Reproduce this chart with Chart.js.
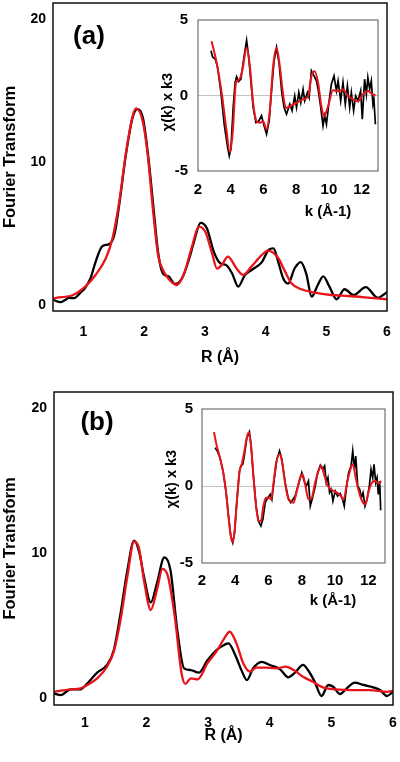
<!DOCTYPE html>
<html><head><meta charset="utf-8">
<script src="https://cdn.jsdelivr.net/npm/chart.js@4.4.1/dist/chart.umd.min.js"></script>
<style>
html,body{margin:0;padding:0;background:#fff}
body{position:relative;width:400px;height:762px;overflow:hidden}
canvas{position:absolute;display:block}
</style></head>
<body>
<canvas id="mainA" width="400" height="380" style="left:0;top:0"></canvas>
<canvas id="mainB" width="400" height="382" style="left:0;top:380px"></canvas>
<canvas id="insetA" width="230" height="215" style="left:155px;top:8px"></canvas>
<canvas id="insetB" width="232" height="220" style="left:158px;top:395px"></canvas>
<script>
// ---- tick labels ----
const rTicks = [1, 2, 3, 4, 5, 6];
const ftTicks = [0, 10, 20];
const kTicks = [2, 4, 6, 8, 10, 12];
const chiTicks = [-5, 0, 5];

// ---- panel (a): Fourier transform, experiment (black) ----
const aR_exp  = [0.50,0.55,0.62,0.70,0.76,0.85,0.95,1.03,1.12,1.20,1.31,1.43,1.51,1.59,1.70,1.81,1.89,1.98,2.06,2.15,2.23,2.31,2.40,2.51,2.58,2.65,2.74,2.82,2.93,3.03,3.15,3.26,3.35,3.45,3.55,3.66,3.77,3.94,4.05,4.13,4.21,4.29,4.37,4.48,4.58,4.67,4.76,4.86,4.95,5.05,5.17,5.30,5.45,5.65,5.85,6.00];
const aFT_exp = [0.40,0.28,0.20,0.35,0.50,0.48,0.85,1.20,1.90,3.00,4.10,4.27,4.90,7.00,10.5,13.1,13.7,13.1,10.7,7.00,3.70,2.20,2.00,1.47,1.60,2.10,3.20,4.40,5.75,5.40,3.70,2.90,2.80,2.20,1.28,2.10,2.45,3.00,3.85,3.96,3.00,1.87,1.50,2.57,3.00,2.20,0.58,1.40,2.00,1.30,0.40,1.10,0.70,1.25,0.50,0.90];
// ---- panel (a): Fourier transform, fit (red) ----
const aR_fit  = [0.50,0.55,0.83,1.03,1.20,1.37,1.48,1.59,1.70,1.81,1.87,1.98,2.06,2.15,2.23,2.31,2.42,2.53,2.65,2.79,2.90,3.01,3.12,3.20,3.28,3.38,3.52,3.63,3.77,3.94,4.04,4.21,4.32,4.43,4.59,4.81,5.08,5.36,5.63,6.00];
const aFT_fit = [0.45,0.50,0.70,1.28,2.10,3.27,4.66,7.20,10.6,13.2,13.75,12.8,10.5,6.50,3.50,2.45,1.75,1.40,2.10,4.10,5.48,5.10,3.60,2.55,2.80,3.38,2.57,2.10,2.70,3.50,3.80,3.27,2.35,1.50,1.10,0.86,0.70,0.63,0.54,0.40];

// ---- panel (a) inset: chi(k) k^3, experiment (black) ----
const aK_exp   = [2.79,2.89,3.06,3.20,3.40,3.60,3.81,3.91,4.01,4.15,4.27,4.36,4.48,4.62,4.79,4.97,5.09,5.23,5.37,5.54,5.70,5.88,6.04,6.19,6.35,6.51,6.65,6.80,6.96,7.12,7.26,7.41,7.51,7.61,7.75,7.91,8.02,8.16,8.28,8.42,8.52,8.69,8.79,8.93,9.09,9.24,9.34,9.50,9.64,9.74,9.85,9.99,10.15,10.31,10.46,10.56,10.72,10.86,11.00,11.13,11.27,11.37,11.51,11.63,11.78,11.94,12.04,12.18,12.29,12.38,12.49,12.59,12.69,12.75,12.84];
const aChi_exp = [2.96,2.56,2.40,1.85,0.20,-1.90,-3.44,-4.00,-3.55,-0.79,0.86,1.24,0.93,1.08,2.40,3.66,2.63,0.97,-0.79,-1.79,-1.72,-1.34,-2.00,-2.56,-1.68,0.53,2.30,3.18,2.07,0.20,-0.79,-1.24,-0.90,-0.57,-1.00,-0.02,-0.79,0.20,-0.46,0.42,-0.35,0.20,-0.13,1.64,1.30,0.97,0.42,-0.79,-2.00,-1.34,-1.90,-0.57,0.75,1.30,0.31,0.97,-0.35,0.86,-0.57,0.64,-0.79,0.20,-1.00,-0.02,-0.35,0.31,-1.57,1.08,0.09,1.19,0.42,0.97,-0.57,-0.24,-1.90];
// ---- panel (a) inset: fit (red) ----
const aK_fit   = [2.83,3.14,3.45,3.71,3.95,4.12,4.32,4.52,4.72,4.97,5.17,5.37,5.58,5.78,5.98,6.19,6.39,6.59,6.80,7.00,7.20,7.37,7.61,8.02,8.42,8.73,8.93,9.13,9.34,9.54,9.70,9.95,10.25,10.56,10.86,11.17,11.47,11.78,12.08,12.38,12.69,12.85];
const aChi_fit = [3.60,2.16,0.18,-2.03,-3.75,-2.46,0.84,1.06,1.72,3.16,1.94,-0.48,-1.70,-1.81,-1.70,-2.25,-0.93,1.94,3.16,1.94,0.07,-0.82,-0.71,-0.48,-0.26,-0.04,1.28,1.61,0.84,-0.71,-1.37,-0.71,0.35,0.29,0.40,-0.04,-0.26,-0.38,0.07,0.29,0.07,0.00];

// ---- panel (b): Fourier transform, experiment (black) ----
const bR_exp  = [0.50,0.61,0.77,0.93,1.04,1.20,1.36,1.47,1.58,1.69,1.80,1.88,1.96,2.07,2.17,2.29,2.39,2.50,2.61,2.72,2.85,2.99,3.15,3.26,3.33,3.44,3.54,3.63,3.73,3.87,4.00,4.17,4.30,4.41,4.54,4.62,4.73,4.84,4.95,5.03,5.14,5.25,5.38,5.52,5.68,5.79,5.90,6.00];
const bFT_exp = [0.32,0.20,0.60,0.60,1.00,1.75,2.28,3.30,5.84,8.80,10.85,10.1,8.37,6.60,7.90,9.70,8.80,4.70,2.05,1.93,1.75,2.60,3.36,3.66,3.77,2.97,1.93,1.24,2.05,2.50,2.28,1.98,1.43,1.75,2.28,1.93,1.12,0.14,0.90,0.78,0.28,0.67,1.06,0.90,0.74,0.55,0.14,0.43];
// ---- panel (b): Fourier transform, fit (red) ----
const bR_fit  = [0.50,0.77,0.93,1.04,1.20,1.36,1.47,1.58,1.69,1.80,1.88,1.96,2.07,2.17,2.26,2.35,2.46,2.57,2.63,2.72,2.83,2.99,3.15,3.26,3.35,3.46,3.57,3.68,3.78,3.92,4.11,4.26,4.39,4.54,4.70,4.86,5.07,5.35,5.62,5.90,6.00];
const bFT_fit = [0.43,0.60,0.67,0.90,1.36,2.16,3.20,5.40,8.37,10.8,10.3,8.10,6.07,7.45,8.90,8.37,5.60,1.70,0.97,1.36,1.29,2.40,3.30,4.10,4.57,3.77,2.40,1.82,2.10,2.10,2.05,2.16,1.93,1.47,1.12,0.74,0.60,0.55,0.55,0.43,0.50];

// ---- panel (b) inset: experiment (black) ----
const bK_exp   = [2.78,2.92,3.08,3.28,3.45,3.59,3.73,3.85,3.95,4.09,4.25,4.33,4.45,4.55,4.69,4.85,4.95,5.09,5.25,5.39,5.54,5.66,5.80,5.96,6.10,6.20,6.34,6.50,6.66,6.80,7.00,7.20,7.34,7.46,7.60,7.80,8.00,8.14,8.27,8.40,8.51,8.67,8.81,8.95,9.11,9.25,9.37,9.47,9.57,9.67,9.77,9.87,10.01,10.15,10.31,10.45,10.55,10.67,10.81,10.96,11.06,11.16,11.24,11.36,11.48,11.58,11.68,11.80,11.92,12.06,12.16,12.26,12.34,12.44,12.52,12.60,12.68,12.74];
const bChi_exp = [2.49,2.27,1.84,0.87,-0.43,-1.95,-3.25,-3.68,-3.10,-1.08,0.97,1.30,1.41,2.00,3.10,3.50,2.60,0.65,-1.30,-2.27,-2.60,-2.16,-1.08,-0.76,-0.54,-0.87,0.43,1.73,2.27,1.73,0.22,-0.87,-1.08,-0.87,-0.65,0.11,0.87,0.32,0.00,0.32,-1.30,-0.65,0.00,0.87,1.34,1.08,1.30,0.22,0.54,-0.43,-0.22,-0.97,-0.33,-0.65,-0.48,-0.87,-1.30,-0.22,0.87,1.30,2.27,1.08,1.95,0.00,-0.22,-0.76,-0.43,-1.30,-0.87,0.00,1.08,0.54,1.41,0.22,0.54,-0.54,0.32,-1.58];
// ---- panel (b) inset: fit (red) ----
const bK_fit   = [2.72,2.89,3.08,3.28,3.45,3.59,3.73,3.83,3.95,4.09,4.25,4.39,4.53,4.69,4.83,4.95,5.09,5.25,5.39,5.54,5.69,5.84,6.00,6.16,6.30,6.46,6.66,6.80,6.96,7.14,7.30,7.50,7.70,7.90,8.04,8.20,8.40,8.60,8.80,9.00,9.17,9.31,9.51,9.71,9.91,10.11,10.31,10.51,10.72,10.92,11.08,11.22,11.42,11.62,11.82,12.02,12.22,12.42,12.62,12.77];
const bChi_fit = [3.50,2.60,1.84,0.87,-0.43,-1.95,-3.25,-3.64,-3.03,-1.08,0.87,1.41,2.16,3.14,3.50,2.60,0.65,-1.30,-2.27,-2.27,-1.30,-0.76,-0.76,-0.87,0.22,1.51,2.06,1.62,0.43,-0.65,-0.97,-1.08,-0.33,0.54,0.76,0.11,-0.87,-0.76,0.22,0.97,1.30,0.87,0.11,-0.17,-0.33,-0.43,-0.61,-0.87,0.22,1.08,1.41,0.65,-0.33,-0.97,-1.19,-0.33,0.22,0.32,0.17,0.32];

// ---- texts ----
const ftTitle = 'Fourier Transform';
const rTitle = 'R (Å)';
const kTitle = 'k (Å-1)';
const chiTitle = 'χ(k) x k3';
const panelLabels = ['(a)', '(b)'];

const FAM = '"Liberation Sans", Arial, Helvetica, sans-serif';
const BLACK = '#000000';
const RED = '#e8141a';

function pts(xs, ys) { return xs.map((x, i) => ({ x: x, y: ys[i] })); }

const framePlugin = (color, width) => ({
  id: 'frame',
  afterDatasetsDraw(chart) {
    const { ctx, chartArea: a } = chart;
    ctx.save();
    ctx.strokeStyle = color; ctx.lineWidth = width;
    ctx.strokeRect(a.left, a.top, a.right - a.left, a.bottom - a.top);
    ctx.restore();
  }
});
const textPlugin = (items) => ({
  id: 'texts',
  afterDraw(chart) {
    const ctx = chart.ctx;
    items.forEach(t => {
      ctx.save();
      ctx.translate(t.x, t.y);
      if (t.rot) ctx.rotate(t.rot);
      ctx.font = t.font; ctx.fillStyle = '#000';
      ctx.textAlign = 'center'; ctx.textBaseline = 'middle';
      ctx.fillText(t.text, 0, 0);
      ctx.restore();
    });
  }
});
const fixTicks = vals => s => { s.ticks = vals.map(v => ({ value: v })); };
const fixSize = (w, h) => s => {
  if (w != null) s.width = w;
  if (h != null) s.height = h;
  s.paddingTop = 0; s.paddingBottom = 0; s.paddingLeft = 0; s.paddingRight = 0;
};

function mainChart(id, exp, fit, L, label) {
  return new Chart(document.getElementById(id), {
    type: 'line',
    data: { datasets: [
      { data: fit, borderColor: RED, borderWidth: 2.3, pointRadius: 0, cubicInterpolationMode: 'monotone' },
      { data: exp, borderColor: BLACK, borderWidth: 2.3, pointRadius: 0, cubicInterpolationMode: 'monotone' }
    ]},
    options: {
      responsive: false, animation: false, events: [],
      layout: { autoPadding: false, padding: { top: L.top, right: L.right, bottom: 0, left: 0 } },
      plugins: { legend: { display: false }, tooltip: { enabled: false } },
      scales: {
        x: {
          type: 'linear', min: 0.5, max: 6,
          afterBuildTicks: fixTicks(rTicks), afterFit: fixSize(null, L.xh),
          grid: { display: false, drawTicks: false }, border: { display: false },
          ticks: { color: '#000', padding: L.xtp, font: { family: FAM, size: 14, weight: 'bold' }, callback: v => String(v) },
          title: { display: true, text: rTitle, color: '#000', font: { family: FAM, size: 16, weight: 'bold' }, padding: { top: 0, bottom: L.xtitle } }
        },
        y: {
          type: 'linear', min: L.ymin, max: L.ymax,
          afterBuildTicks: fixTicks(ftTicks), afterFit: fixSize(L.yw, null),
          grid: { display: false, drawTicks: false }, border: { display: false },
          ticks: { color: '#000', padding: 7, font: { family: FAM, size: 14, weight: 'bold' }, callback: v => String(v) },
          title: { display: true, text: ftTitle, color: '#000', font: { family: FAM, size: 16.5, weight: 'bold' }, padding: { top: 1, bottom: 0 } }
        }
      }
    },
    plugins: [framePlugin('#111', 1.5), textPlugin([label])]
  });
}

function insetChart(id, exp, fit, L, texts) {
  return new Chart(document.getElementById(id), {
    type: 'line',
    data: { datasets: [
      { data: fit, borderColor: RED, borderWidth: 2, pointRadius: 0, cubicInterpolationMode: 'monotone' },
      { data: exp, borderColor: BLACK, borderWidth: 1.7, pointRadius: 0, tension: 0 }
    ]},
    options: {
      responsive: false, animation: false, events: [],
      layout: { autoPadding: false, padding: { top: L.top, right: L.right, bottom: 0, left: 0 } },
      plugins: { legend: { display: false }, tooltip: { enabled: false } },
      scales: {
        x: {
          type: 'linear', min: 2, max: 13,
          afterBuildTicks: fixTicks(kTicks), afterFit: fixSize(null, L.xh),
          grid: { display: false, drawTicks: false }, border: { display: false },
          ticks: { color: '#000', padding: L.tp, font: { family: FAM, size: 15, weight: 'bold' }, callback: v => String(v) }
        },
        y: {
          type: 'linear', min: -5, max: 5,
          afterBuildTicks: fixTicks(chiTicks), afterFit: fixSize(L.yw, null),
          grid: { display: true, drawTicks: false, lineWidth: 1, color: c => (c.tick && c.tick.value === 0) ? '#c4c4c4' : 'rgba(0,0,0,0)' },
          border: { display: false },
          ticks: { color: '#000', padding: L.tp, font: { family: FAM, size: 15, weight: 'bold' }, callback: v => String(v) }
        }
      }
    },
    plugins: [framePlugin('#555', 1), textPlugin(texts)]
  });
}

const bigFont = 'bold 26px ' + FAM;
const insFont = 'bold 15px ' + FAM;
const chiFont = 'bold 14.5px ' + FAM;

mainChart('mainA', pts(aR_exp, aFT_exp), pts(aR_fit, aFT_fit),
  { top: 3, right: 13, yw: 53, xh: 69, xtp: 13, xtitle: 13, ymin: -0.42, ymax: 21.12 },
  { text: panelLabels[0], x: 89, y: 37, font: bigFont });
mainChart('mainB', pts(bR_exp, bFT_exp), pts(bR_fit, bFT_fit),
  { top: 12, right: 7, yw: 54, xh: 57, xtp: 10, xtitle: 16.4, ymin: -0.48, ymax: 21.1 },
  { text: panelLabels[1], x: 97, y: 43, font: bigFont });
insetChart('insetA', pts(aK_exp, aChi_exp), pts(aK_fit, aChi_fit),
  { top: 12, right: 7, yw: 43, xh: 52, tp: 10 },
  [{ text: kTitle, x: 173, y: 203.5, font: insFont },
   { text: chiTitle, x: 13, y: 94, font: chiFont, rot: -Math.PI / 2 }]);
insetChart('insetB', pts(bK_exp, bChi_exp), pts(bK_fit, bChi_fit),
  { top: 14, right: 5, yw: 44, xh: 52, tp: 9 },
  [{ text: kTitle, x: 175, y: 206, font: insFont },
   { text: chiTitle, x: 14, y: 84, font: chiFont, rot: -Math.PI / 2 }]);
</script>
</body></html>
